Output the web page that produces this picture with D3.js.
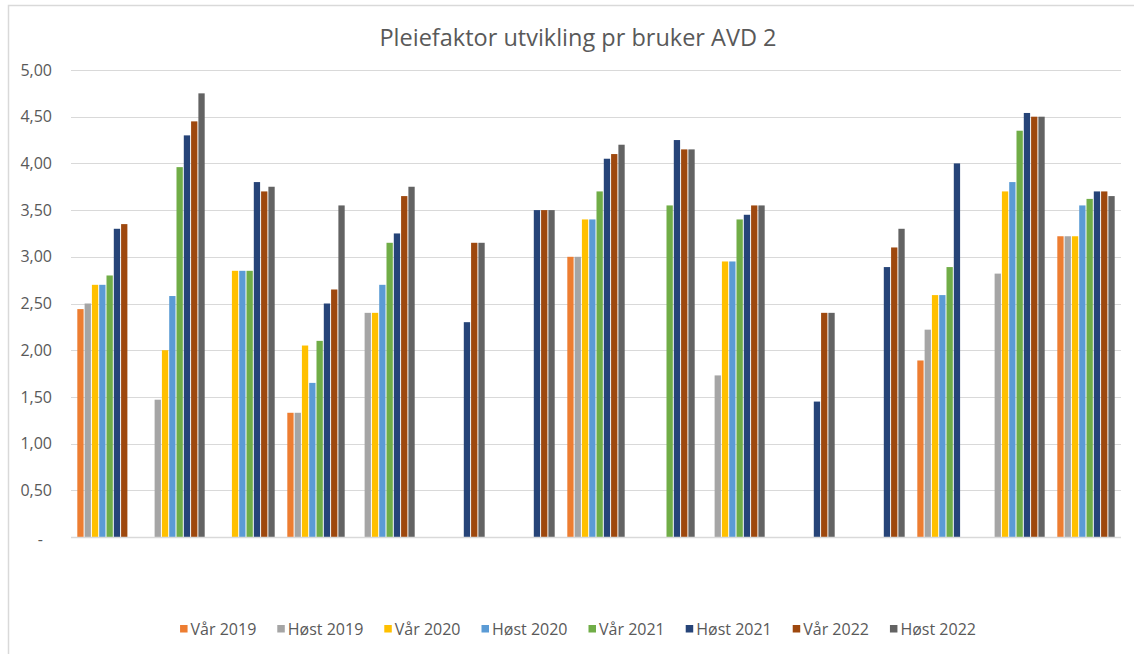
<!DOCTYPE html>
<html>
<head>
<meta charset="utf-8">
<script src="https://cdn.jsdelivr.net/npm/d3@7"></script>
<style>
    body { margin: 0; background: #fff; }
    svg { display: block; font-family: "Open Sans", "Noto Sans", sans-serif; }
</style>
</head>
<body>
<svg id="chart" width="1134" height="654"></svg>
<script>
// groups along the x axis (no labels shown in the chart)
const groups = ["1", "2", "3", "4", "5", "6", "7", "8", "9", "10", "11", "12", "13", "14", "15"];

const seriesNames = ["Vår 2019", "Høst 2019", "Vår 2020", "Høst 2020", "Vår 2021", "Høst 2021", "Vår 2022", "Høst 2022"];
const seriesColors = ["#ED7D31", "#A5A5A5", "#FFC000", "#5B9BD5", "#70AD47", "#264478", "#9E480E", "#636363"];

const var2019  = [2.44, null, null, 1.33, null, null, null, 3.00, null, null, null, null, 1.89, null, 3.22];
const host2019 = [2.50, 1.47, null, 1.33, 2.40, null, null, 3.00, null, 1.73, null, null, 2.22, 2.82, 3.22];
const var2020  = [2.70, 2.00, 2.85, 2.05, 2.40, null, null, 3.40, null, 2.95, null, null, 2.59, 3.70, 3.22];
const host2020 = [2.70, 2.58, 2.85, 1.65, 2.70, null, null, 3.40, null, 2.95, null, null, 2.59, 3.80, 3.55];
const var2021  = [2.80, 3.96, 2.85, 2.10, 3.15, null, null, 3.70, 3.55, 3.40, null, null, 2.89, 4.35, 3.62];
const host2021 = [3.30, 4.30, 3.80, 2.50, 3.25, 2.30, 3.50, 4.05, 4.25, 3.45, 1.45, 2.89, 4.00, 4.54, 3.70];
const var2022  = [3.35, 4.45, 3.70, 2.65, 3.65, 3.15, 3.50, 4.10, 4.15, 3.55, 2.40, 3.10, null, 4.50, 3.70];
const host2022 = [null, 4.75, 3.75, 3.55, 3.75, 3.15, 3.50, 4.20, 4.15, 3.55, 2.40, 3.30, null, 4.50, 3.65];

const seriesValues = [var2019, host2019, var2020, host2020, var2021, host2021, var2022, host2022];
const yTicks = [0, 0.5, 1, 1.5, 2, 2.5, 3, 3.5, 4, 4.5, 5];

const svg = d3.select("#chart");
const textColor = "#595959";
const gridColor = "#d9d9d9";

// chart frame (cut off on the right/bottom like the screenshot)
svg.append("rect").attr("x", 8.5).attr("y", 5.5).attr("width", 1300).attr("height", 800)
    .attr("fill", "none").attr("stroke", gridColor).attr("stroke-width", 1.5);

const plot = { left: 71, right: 1121, top: 70, bottom: 537 };

const x = d3.scaleBand().domain(groups).range([plot.left, plot.right])
    .paddingInner(0.166).paddingOuter(0.083);
const xs = d3.scaleBand().domain(d3.range(seriesNames.length)).range([0, x.bandwidth()]);
const y = d3.scaleLinear().domain([0, 5]).range([plot.bottom, plot.top]);

const loc = d3.formatLocale({ decimal: ",", thousands: " ", grouping: [3], currency: ["", ""] });
const fmt = loc.format(".2f");

// gridlines
svg.append("g").selectAll("line").data(yTicks.filter(d => d > 0)).enter().append("line")
    .attr("x1", plot.left).attr("x2", plot.right)
    .attr("y1", d => Math.round(y(d)) + 0.5).attr("y2", d => Math.round(y(d)) + 0.5)
    .attr("stroke", gridColor).attr("stroke-width", 1);

// y tick labels
svg.append("g").selectAll("text").data(yTicks).enter().append("text")
    .attr("x", d => d === 0 ? 43 : 52)
    .attr("y", d => y(d) + (d === 0 ? 2 : 0))
    .attr("dy", "0.35em")
    .attr("text-anchor", "end")
    .attr("font-size", 16)
    .attr("fill", textColor)
    .text(d => d === 0 ? "-" : fmt(d));

// bars
const barData = [];
seriesValues.forEach((vals, si) => {
    vals.forEach((v, gi) => { if (v != null) barData.push({ s: si, g: groups[gi], v: v }); });
});
svg.append("g").selectAll("rect").data(barData).enter().append("rect")
    .attr("x", d => x(d.g) + xs(d.s) + 0.5)
    .attr("width", xs.bandwidth() - 1)
    .attr("y", d => y(d.v))
    .attr("height", d => y(0) - y(d.v))
    .attr("fill", d => seriesColors[d.s]);

// x axis line
svg.append("line").attr("x1", plot.left).attr("x2", plot.right)
    .attr("y1", plot.bottom + 0.5).attr("y2", plot.bottom + 0.5)
    .attr("stroke", gridColor).attr("stroke-width", 1.5);

// title
svg.append("text").attr("x", 578).attr("y", 46).attr("text-anchor", "middle")
    .attr("font-size", 23.5).attr("fill", textColor)
    .text("Pleiefaktor utvikling pr bruker AVD 2");

// legend, laid out by measured text width and centred
const legend = svg.append("g");
const items = legend.selectAll("g").data(seriesNames).enter().append("g");
items.append("rect").attr("width", 7.5).attr("height", 7.5).attr("y", -4)
    .attr("fill", (d, i) => seriesColors[i]);
items.append("text").attr("x", 10.5).attr("dy", "0.35em")
    .attr("font-size", 16).attr("fill", textColor).text(d => d);
let cx = 0;
items.each(function () {
    d3.select(this).attr("transform", `translate(${cx},629)`);
    cx += 10.5 + d3.select(this).select("text").node().getComputedTextLength() + 21;
});
const total = cx - 21;
legend.attr("transform", `translate(${578 - total / 2},0)`);
</script>
</body>
</html>
